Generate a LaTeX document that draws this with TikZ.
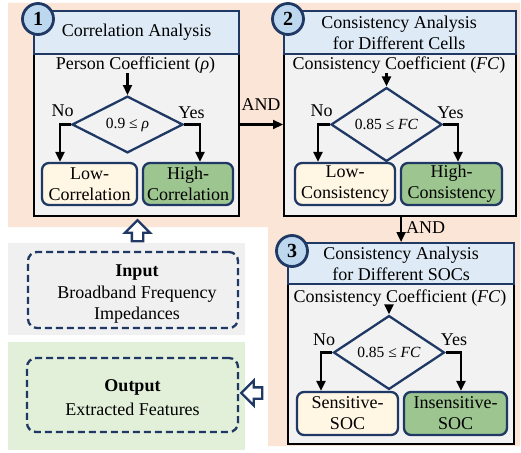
\documentclass[tikz,border=0pt]{standalone}
\usepackage{fontspec}
\setmainfont{Liberation Serif}
\usetikzlibrary{shapes.geometric,shapes.arrows,arrows.meta}
\definecolor{peach}{HTML}{FBE5D6}
\definecolor{hdrblue}{HTML}{DEEBF7}
\definecolor{circblue}{HTML}{BDD7EE}
\definecolor{navy}{HTML}{1F3864}
\definecolor{bodygray}{HTML}{F2F2F2}
\definecolor{cream}{HTML}{FFF6E3}
\definecolor{leafgreen}{HTML}{9DC590}
\definecolor{outgreen}{HTML}{E2F0D9}
\definecolor{ingray}{HTML}{F0F0F0}
\newcommand{\fs}{\fontsize{18}{21}\selectfont}
\tikzset{
  bodybox/.style={draw=black, fill=bodygray, line width=2.4pt, inner sep=0pt, anchor=north west},
  hdrbox/.style={draw=navy, fill=hdrblue, line width=2.2pt, inner sep=0pt, anchor=north west},
  numcirc/.style={circle, draw=navy, fill=circblue, line width=2.8pt, minimum size=31pt, inner sep=0pt, font=\fontsize{20}{21}\selectfont\bfseries},
  ttl/.style={align=center, font=\fs, inner sep=0pt},
  txt/.style={font=\fs, inner sep=0pt},
  decide/.style={diamond, draw=navy, line width=2.3pt, fill=bodygray, minimum width=111pt, minimum height=55pt, inner sep=0pt, font=\fontsize{15.5}{17}\selectfont},
  outcome/.style={draw=navy, line width=2.3pt, rounded corners=7pt, align=center, inner sep=0pt, font=\fs, minimum height=42pt},
  lowbox/.style={outcome, fill=cream},
  highbox/.style={outcome, fill=leafgreen},
  arr/.style={draw=black, line width=2.2pt, -{Triangle[length=10pt,width=9pt]}},
  dashbox/.style={draw=navy, line width=2.3pt, dash pattern=on 7pt off 4pt, rounded corners=9pt, inner sep=0pt},
  hollow/.style={single arrow, draw=navy, fill=white, line width=2.3pt, inner sep=4.5pt, single arrow head extend=7pt, minimum height=21pt}
}
\begin{document}
\begin{tikzpicture}[x=1pt,y=-1pt]
\useasboundingbox (0,0) rectangle (521,452);
% peach background
\fill[peach] (8,3) -| (520,446) -| (268,227) -| (8,3) -- cycle;
% side panels
\fill[ingray] (8,243) rectangle (245,335);
\fill[outgreen] (8,342) rectangle (245,450);

% ---------- Box 1 ----------
\node[bodybox, minimum width=205pt, minimum height=162pt] (b1) at (33,53) {};
\node[hdrbox, minimum width=205pt, minimum height=43pt] (h1) at (33,10) {};
\node[ttl] (t1) at (h1.center) {Correlation Analysis};
\node[numcirc] (c1) at (38,19) {1};
\node[txt] (coef1) at (135.5,65) {Person Coefficient (\textit{ρ})};
\node[decide] (d1) at (127.5,124.5) {0.9 ≤ \textit{ρ}};
\node[txt, anchor=east] (no1) at ([shift={(3,-14)}]d1.west) {No};
\node[txt, anchor=west] (yes1) at ([shift={(-6,-12)}]d1.east) {Yes};
\node[lowbox, minimum width=95pt] (low1) at (89.5,184) {Low-\\Correlation};
\node[highbox, minimum width=90pt] (high1) at (188,184) {High-\\Correlation};
\draw[arr] (coef1.south -| d1.north) -- (d1.north);
\draw[arr] (d1.west) -| ([xshift=-29.5pt]low1.north);
\draw[arr] (d1.east) -| ([xshift=12pt]high1.north);

% ---------- Box 2 ----------
\node[bodybox, minimum width=232pt, minimum height=162pt] (b2) at (283,53) {};
\node[hdrbox, minimum width=232pt, minimum height=43pt] (h2) at (283,10) {};
\node[ttl] (t2) at ([xshift=-1pt]h2.center) {Consistency Analysis\\for Different Cells};
\node[numcirc] (c2) at (288,19) {2};
\node[txt] (coef2) at (399,65) {Consistency Coefficient (\textit{FC})};
\node[decide] (d2) at (386.5,124.5) {0.85 ≤ \textit{FC}};
\node[txt, anchor=east] (no2) at ([shift={(3,-14)}]d2.west) {No};
\node[txt, anchor=west] (yes2) at ([shift={(-6,-12)}]d2.east) {Yes};
\node[lowbox, minimum width=100pt] (low2) at (345,184) {Low-\\Consistency};
\node[highbox, minimum width=101pt] (high2) at (451.5,184) {High-\\Consistency};
\draw[arr] (coef2.south -| d2.north) -- (d2.north);
\draw[arr] (d2.west) -| ([xshift=-27pt]low2.north);
\draw[arr] (d2.east) -| ([xshift=6.5pt]high2.north);

% ---------- Box 3 ----------
\node[bodybox, minimum width=226pt, minimum height=160pt] (b3) at (287,283) {};
\node[hdrbox, minimum width=226pt, minimum height=41pt] (h3) at (287,242) {};
\node[ttl] (t3) at (h3.center) {Consistency Analysis\\for Different SOCs};
\node[numcirc] (c3) at (292,251) {3};
\node[txt] (coef3) at (400,298) {Consistency Coefficient (\textit{FC})};
\node[decide] (d3) at (389,352.5) {0.85 ≤ \textit{FC}};
\node[txt, anchor=east] (no3) at ([shift={(3,-13)}]d3.west) {No};
\node[txt, anchor=west] (yes3) at ([shift={(-5,-13)}]d3.east) {Yes};
\node[lowbox, minimum width=101pt, minimum height=43pt] (sens) at (347.5,413.5) {Sensitive-\\SOC};
\node[highbox, minimum width=103pt, minimum height=43pt] (insens) at (455.5,413.5) {Insensitive-\\SOC};
\draw[arr] (coef3.south -| d3.north) -- (d3.north);
\draw[arr] (d3.west) -| ([xshift=-26.5pt]sens.north);
\draw[arr] (d3.east) -| ([xshift=5.5pt]insens.north);

% ---------- links between boxes ----------
\draw[arr] (d1.east -| b1.east) -- (d1.east -| b2.west);
\node[txt] (and1) at (261,105) {AND};
\draw[arr] (h3.north |- b2.south) -- (h3.north);
\node[txt, anchor=west] (and2) at (406,228) {AND};

% ---------- Input / Output ----------
\node[dashbox, minimum width=210pt, minimum height=76pt] (inbox) at (133,290) {};
\node[ttl] (intext) at (137,294.5) {\textbf{Input}\\[1pt]Broadband Frequency\\Impedances};
\node[dashbox, minimum width=211pt, minimum height=74pt] (outbox) at (132.5,395) {};
\node[ttl] (outtext) at (132.5,397.5) {\textbf{Output}\\[3pt]Extracted Features};
\node[hollow, shape border rotate=90] (inarrow) at (137.5,233.5) {};
\node[hollow, shape border rotate=180] (outarrow) at (254.5,393) {};
\end{tikzpicture}
\end{document}
